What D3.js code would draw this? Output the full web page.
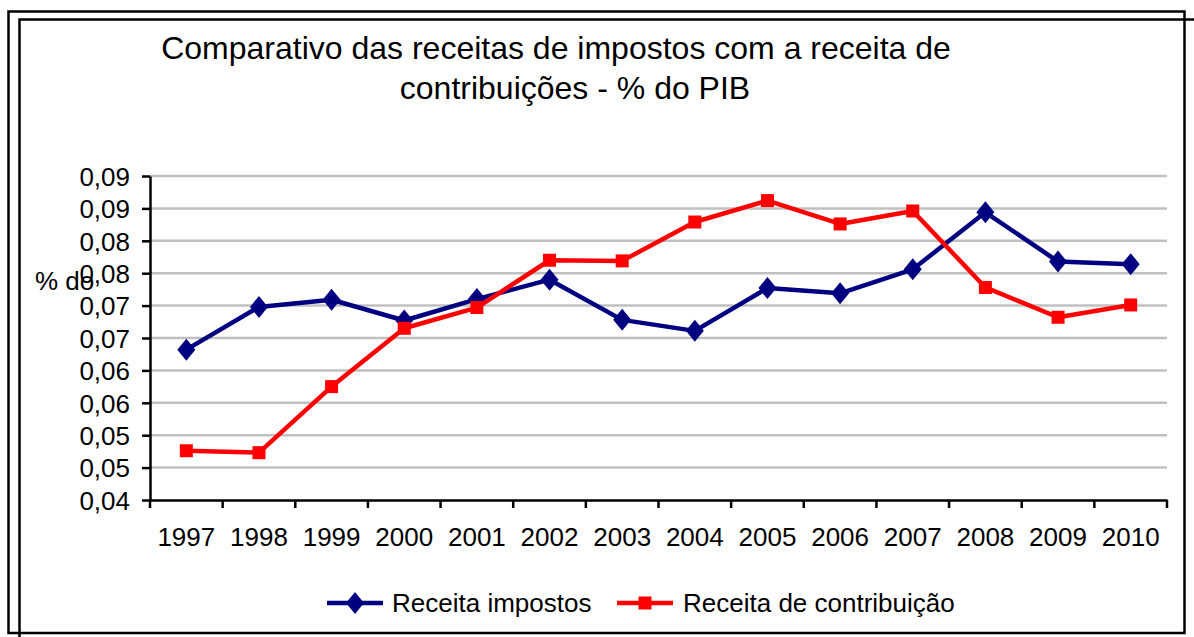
<!DOCTYPE html>
<html>
<head>
<meta charset="utf-8">
<script src="https://cdn.jsdelivr.net/npm/d3@7"></script>
<style>
    body { margin: 0; background: #fff; }
    svg text { font-family: "Liberation Sans", Arial, sans-serif; fill: #000; }
</style>
</head>
<body>
<div id="chart"></div>
<script>
// data

var years = ["1997", "1998", "1999", "2000", "2001", "2002", "2003",
    "2004", "2005", "2006", "2007", "2008", "2009", "2010"];

var impostos = [0.0632, 0.0698, 0.0709, 0.0677, 0.0710, 0.0740, 0.0678,
    0.0661, 0.0727, 0.0719, 0.0756, 0.0844, 0.0768, 0.0764];

var contribuicao = [0.0476, 0.0473, 0.0575, 0.0665, 0.0697, 0.0770, 0.0769,
    0.0829, 0.0862, 0.0826, 0.0846, 0.0728, 0.0682, 0.0701];

var yTicks = [0.04, 0.045, 0.05, 0.055, 0.06, 0.065, 0.07, 0.075, 0.08, 0.085, 0.09];
var yTickLabels = ["0,04", "0,05", "0,05", "0,06", "0,06", "0,07", "0,07", "0,08", "0,08", "0,09", "0,09"];

var seriesNames = ["Receita impostos", "Receita de contribuição"];

// layout

var width = 1194,
    height = 637,
    plot = { left: 150, right: 1167, top: 176, bottom: 500 },
    blue = "#000080",
    red = "#ff0000";

var svg = d3.select("#chart")
    .append("svg")
    .attr("width", width)
    .attr("height", height);

// frames
svg.append("rect")
    .attr("x", 8.5).attr("y", 11.5)
    .attr("width", 1176).attr("height", 621.5)
    .attr("fill", "none").attr("stroke", "#000").attr("stroke-width", 2.5);

svg.append("rect")
    .attr("x", 19.5).attr("y", 19.5)
    .attr("width", 1200).attr("height", 640)
    .attr("fill", "none").attr("stroke", "#000").attr("stroke-width", 2.5);

// title
svg.append("text")
    .attr("x", 556).attr("y", 59)
    .attr("text-anchor", "middle")
    .style("font-size", "32px")
    .text("Comparativo das receitas de impostos com a receita de");

svg.append("text")
    .attr("x", 575).attr("y", 99)
    .attr("text-anchor", "middle")
    .style("font-size", "32px")
    .text("contribuições - % do PIB");

var x = d3.scaleBand()
    .domain(years)
    .range([plot.left, plot.right])
    .paddingInner(0)
    .paddingOuter(0);

var y = d3.scaleLinear()
    .domain([0.04, 0.09])
    .range([plot.bottom, plot.top]);

// axis title (partly covered by tick labels)
svg.append("text")
    .attr("x", 35).attr("y", 290)
    .style("font-size", "26px")
    .text("% do");

// gridlines
svg.append("g")
    .selectAll("line")
    .data(yTicks.slice(1))
    .enter()
    .append("line")
    .attr("x1", plot.left)
    .attr("x2", plot.right)
    .attr("y1", function (d) { return y(d); })
    .attr("y2", function (d) { return y(d); })
    .attr("stroke", "#c0c0c0")
    .attr("stroke-width", 2.5);

// y axis
var yAxis = svg.append("g")
    .attr("transform", "translate(" + plot.left + ",0)")
    .call(d3.axisLeft(y)
        .tickValues(yTicks)
        .tickFormat(function (d, i) { return yTickLabels[i]; })
        .tickSize(8)
        .tickPadding(12)
        .tickSizeOuter(0));

yAxis.select(".domain").attr("stroke", "#000").attr("stroke-width", 2.5);
yAxis.selectAll(".tick line").attr("stroke", "#000").attr("stroke-width", 2.5);
yAxis.selectAll(".tick text")
    .attr("font-family", null)
    .style("font-size", "26px")
    .attr("dy", "0.36em");

// x axis
var xAxis = svg.append("g")
    .attr("transform", "translate(0," + plot.bottom + ")")
    .call(d3.axisBottom(x).tickSize(0).tickPadding(28).tickSizeOuter(0));

xAxis.select(".domain").attr("stroke", "#000").attr("stroke-width", 2.5);
xAxis.selectAll(".tick text")
    .attr("font-family", null)
    .style("font-size", "26px");

// category boundary ticks
xAxis.selectAll(".bound")
    .data(years.concat(["end"]))
    .enter()
    .append("line")
    .attr("class", "bound")
    .attr("x1", function (d, i) { return plot.left + i * x.step(); })
    .attr("x2", function (d, i) { return plot.left + i * x.step(); })
    .attr("y1", 0)
    .attr("y2", 8)
    .attr("stroke", "#000")
    .attr("stroke-width", 2.5);

var cx = function (d, i) { return x(years[i]) + x.bandwidth() / 2; };

var line = d3.line()
    .x(cx)
    .y(function (d) { return y(d); });

// blue series with diamonds
svg.append("path")
    .datum(impostos)
    .attr("d", line)
    .attr("fill", "none")
    .attr("stroke", blue)
    .attr("stroke-width", 4.5)
    .attr("stroke-linejoin", "round");

var diamond = "M0,-11L9,0L0,11L-9,0Z";

svg.append("g")
    .selectAll("path")
    .data(impostos)
    .enter()
    .append("path")
    .attr("d", diamond)
    .attr("transform", function (d, i) { return "translate(" + cx(d, i) + "," + y(d) + ")"; })
    .attr("fill", blue);

// red series with squares
svg.append("path")
    .datum(contribuicao)
    .attr("d", line)
    .attr("fill", "none")
    .attr("stroke", red)
    .attr("stroke-width", 4.5)
    .attr("stroke-linejoin", "round");

svg.append("g")
    .selectAll("rect")
    .data(contribuicao)
    .enter()
    .append("rect")
    .attr("x", function (d, i) { return cx(d, i) - 6.5; })
    .attr("y", function (d) { return y(d) - 6.5; })
    .attr("width", 13)
    .attr("height", 13)
    .attr("fill", red);

// legend
var legend = svg.append("g").attr("transform", "translate(0,603)");

var items = [
    { name: seriesNames[0], color: blue, x: 327, textX: 392, marker: "diamond" },
    { name: seriesNames[1], color: red, x: 617, textX: 683, marker: "square" }
];

items.forEach(function (d) {
    legend.append("line")
        .attr("x1", d.x).attr("x2", d.x + 56)
        .attr("y1", 0).attr("y2", 0)
        .attr("stroke", d.color)
        .attr("stroke-width", 4.5);

    if (d.marker == "diamond") {
        legend.append("path")
            .attr("d", diamond)
            .attr("transform", "translate(" + (d.x + 28) + ",0)")
            .attr("fill", d.color);
    } else {
        legend.append("rect")
            .attr("x", d.x + 28 - 6.5).attr("y", -6.5)
            .attr("width", 13).attr("height", 13)
            .attr("fill", d.color);
    }

    legend.append("text")
        .attr("x", d.textX).attr("y", 9)
        .style("font-size", "26px")
        .text(d.name);
});
</script>
</body>
</html>
